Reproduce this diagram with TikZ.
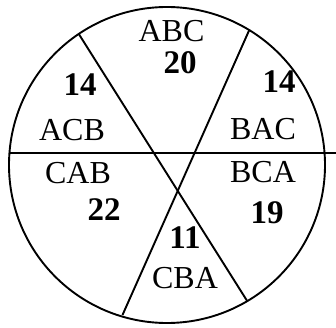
\documentclass[tikz,border=0pt]{standalone}
\usepackage{fontspec}
\setmainfont{Liberation Serif}
\usepackage{tikz}
\usetikzlibrary{positioning}

\begin{document}
\begin{tikzpicture}[x=1pt, y=-1pt,
  perm/.style={font=\fontsize{32}{32}\selectfont, inner sep=0pt},
  cnt/.style={font=\fontsize{33}{33}\selectfont\bfseries, inner sep=0pt}]
\useasboundingbox (0,0) rectangle (336,328);
\draw[line width=1.9pt] (167,165) circle[radius=158];
\draw[line width=2.8pt] (10,153) -- (336,153);
\draw[line width=1.9pt] (78.5,33.5) -- (247.5,301.5);
\draw[line width=1.9pt] (249.5,29.5) -- (122.5,315);
% labels
\node[perm] (abc) at (171.5,31) {ABC};
\node[cnt] (n20) at (180,63) {20};
\node[cnt] (n14a) at (80,85) {14};
\node[perm] (acb) at (72,130) {ACB};
\node[cnt] (n14b) at (279,82) {14};
\node[perm] (bac) at (263,129) {BAC};
\node[perm] (cab) at (78,173) {CAB};
\node[cnt] (n22) at (104,210) {22};
\node[perm] (bca) at (263,172) {BCA};
\node[cnt] (n19) at (267,213) {19};
\node[cnt] (n11) at (185,238) {11};
\node[perm] (cba) at (185,278) {CBA};
\end{tikzpicture}
\end{document}
